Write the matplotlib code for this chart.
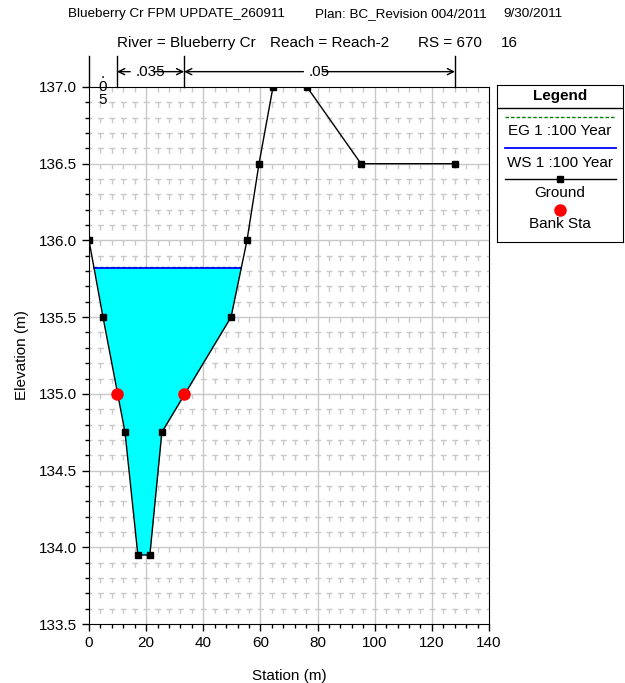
import numpy as np
import matplotlib
matplotlib.use("Agg")
import matplotlib.pyplot as plt

plt.rcParams['font.family'] = ['Liberation Sans', 'DejaVu Sans']

# cross section ground
station = [0.0, 4.9, 12.6, 17.1, 21.3, 25.5, 49.7, 55.3, 59.5, 64.4, 76.3, 95.2, 128.1]
elev = [136.0, 135.5, 134.75, 133.95, 133.95, 134.75, 135.5, 136.0, 136.5, 137.0, 137.0, 136.5, 136.5]
bank_sta = [9.8, 33.3]
bank_elev = [135.0, 135.0]
ws = 135.82
eg = 135.83
# manning n regions
n_breaks = [0.0, 9.8, 33.3, 128.1]
n_vals = [".05", ".035", ".05"]

fig = plt.figure(figsize=(6.25, 6.83), dpi=100)
ax = fig.add_axes([89/625, 59/683, 400/625, 537/683])

x = np.array(station)
g = np.array(elev)
ax.fill_between(x, g, ws, where=g < ws, interpolate=True, color="#00ffff", lw=0, zorder=2)

# wet extent for the WS / EG lines
wet = np.where(g < ws)[0]
i0, i1 = wet[0], wet[-1]
xl = np.interp(ws, [g[i0], g[i0-1]], [x[i0], x[i0-1]])
xr = np.interp(ws, [g[i1], g[i1+1]], [x[i1], x[i1+1]])
ax.plot([xl, xr], [eg, eg], color="#008000", lw=1, ls=(0, (2.5, 1.5)), zorder=3)
ax.plot([xl, xr], [ws, ws], color="#0000ff", lw=1.3, zorder=4)

ax.plot(station, elev, color="black", lw=1, marker="s", ms=4.5, zorder=5)
ax.plot(bank_sta, bank_elev, "o", color="#ff0000", ms=8, zorder=6, ls="none")

ax.set_xlim(0, 140)
ax.set_ylim(133.5, 137.0)
ax.set_xticks(np.arange(0, 141, 20))
ax.set_xticks(np.arange(0, 141, 4), minor=True)
ax.set_yticks(np.arange(133.5, 137.01, 0.5))
ax.set_yticks(np.arange(133.5, 137.01, 0.1), minor=True)
ax.set_yticklabels(["%.1f" % v for v in np.arange(133.5, 137.01, 0.5)])
ax.tick_params(which="major", direction="out", length=5, labelsize=11, width=1)
ax.tick_params(which="minor", direction="out", length=3, width=1)

# grid
for xv in np.arange(0, 141, 4):
    if xv % 20:
        ax.plot([xv, xv], [137.0, 133.5], color="#c8c8c8", lw=1, ls=(0, (3.6, 7.44)), zorder=0)
for yv in np.arange(133.6, 137.0, 0.1):
    if abs(yv*2 - round(yv*2)) > 1e-6:
        ax.plot([0, 140], [yv, yv], color="#c8c8c8", lw=1, ls=(2.16, (4.32, 3.91)), zorder=0)
for xv in np.arange(20, 140, 20):
    ax.axvline(xv, color="#c8c8c8", lw=1, zorder=1)
for yv in np.arange(134.0, 137.0, 0.5):
    ax.axhline(yv, color="#c8c8c8", lw=1, zorder=1)

ax.set_xlabel("Station (m)", fontsize=11, labelpad=14)
ax.set_ylabel("Elevation (m)", fontsize=11, labelpad=7)

# n value brackets above the plot
for b in n_breaks:
    ax.plot([b, b], [137.0, 137.2], color="black", lw=1, clip_on=False)
ya = 137.1
for k, nv in enumerate(n_vals):
    a, b = n_breaks[k], n_breaks[k+1]
    mid = (a + b) / 2
    if b - a < 15:
        ax.text(mid, 137.0, "\n".join(nv), ha="center", va="center", fontsize=11, linespacing=0.95)
        continue
    for tgt in (a, b):
        ax.annotate(nv if tgt == a else "", xy=(tgt, ya), xytext=(mid, ya),
                    ha="center", va="center", fontsize=11, annotation_clip=False,
                    arrowprops=dict(arrowstyle="->", lw=1, color="black", shrinkB=0))
    ax.text(mid, ya, nv, ha="center", va="center", fontsize=11, alpha=0)

# titles
fig.text(68/625, 1-14/683, "Blueberry Cr FPM UPDATE_260911", fontsize=9.7, va="center")
fig.text(315/625, 1-14/683, "Plan: BC_Revision 004/2011", fontsize=9.7, va="center")
fig.text(503/625, 1-14/683, "9/30/2011", fontsize=9.7, va="center")
fig.text(117/625, 1-43/683, "River = Blueberry Cr", fontsize=11, va="center")
fig.text(270/625, 1-43/683, "Reach = Reach-2", fontsize=11, va="center")
fig.text(418/625, 1-43/683, "RS = 670", fontsize=11, va="center")
fig.text(501/625, 1-43/683, "16", fontsize=11, va="center")

# legend box
lg = fig.add_axes([497/625, (683-242)/683, 126/625, 157/683])
lg.set_xlim(0, 126)
lg.set_ylim(157, 0)
lg.set_xticks([])
lg.set_yticks([])
lg.axhline(23, color="black", lw=1)
lg.text(63, 11, "Legend", ha="center", va="center", fontsize=11, fontweight="bold")
lg.plot([8, 119], [32, 32], color="#008000", lw=1, ls=(0, (2.5, 1.5)))
lg.text(63, 46, "EG 1 :100 Year", ha="center", va="center", fontsize=11)
lg.plot([8, 119], [63, 63], color="#0000ff", lw=1.3)
lg.text(63, 78, "WS 1 :100 Year", ha="center", va="center", fontsize=11)
lg.plot([8, 119], [94, 94], color="black", lw=1)
lg.plot([63], [94], "s", color="black", ms=4.5)
lg.text(63, 108, "Ground", ha="center", va="center", fontsize=11)
lg.plot([63], [125], "o", color="#ff0000", ms=8)
lg.text(63, 139, "Bank Sta", ha="center", va="center", fontsize=11)

fig.savefig("out.png", dpi=100)
